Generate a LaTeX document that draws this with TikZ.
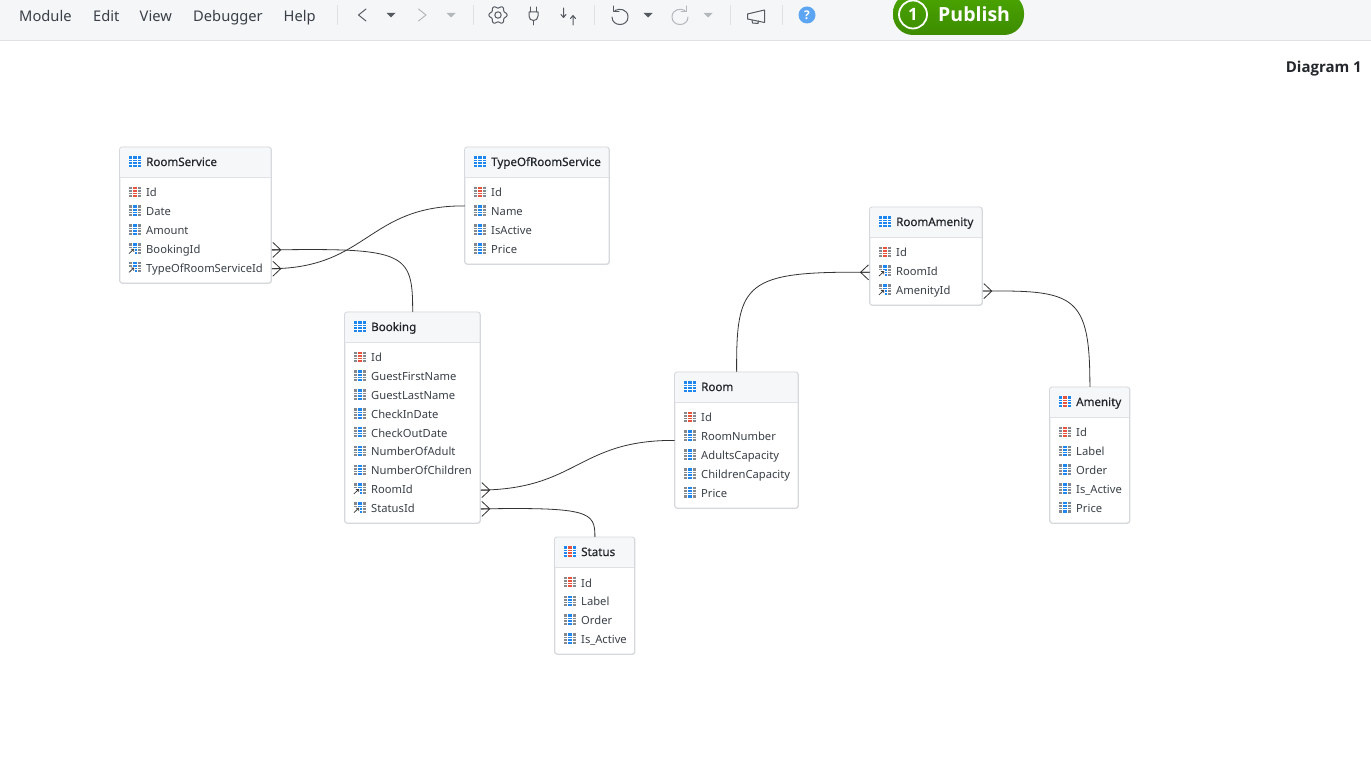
\documentclass[tikz,border=0pt]{standalone}
\usepackage{fontspec}
\setmainfont{Noto Sans}
\newfontfamily\headfont[FakeBold=.5]{Noto Sans}
\newfontfamily\strongfont{Open Sans}
\definecolor{barbg}{HTML}{F5F6F8}
\definecolor{barline}{HTML}{DFE1E5}
\definecolor{framecol}{HTML}{D5D8DC}
\definecolor{headbg}{HTML}{F6F7F9}
\definecolor{inkcol}{HTML}{3A4048}
\definecolor{titlecol}{HTML}{23272C}
\definecolor{iconcol}{HTML}{555A60}
\definecolor{offcol}{HTML}{B4B7BB}
\definecolor{keyblue}{HTML}{1F86EE}
\definecolor{keygrey}{HTML}{85888C}
\definecolor{keyred}{HTML}{E8533E}
\definecolor{helpblue}{HTML}{5CA5F2}
\definecolor{pubtop}{HTML}{4AA500}
\definecolor{pubbottom}{HTML}{3D8C00}
\newcommand{\gridlines}{
  \foreach \lineat in {-2.75,-.25,2.25}{\fill[white] (-6,\lineat) rectangle (6,\lineat+.5);}
  \foreach \lineat in {-2.2,2.2}{\fill[white] (\lineat-.2,-5.3) rectangle (\lineat+.2,5.3);}
}
\tikzset{
tableframe/.style={draw=framecol,rounded corners=2.5pt,fill=white,line width=.8pt,inner sep=0pt},
tabletitle/.style={anchor=west,inner sep=0pt,font=\fontsize{11.6}{14}\headfont,text=titlecol,text height=9pt,text depth=2pt},
rowtext/.style={anchor=west,inner sep=0pt,font=\fontsize{11.2}{14}\selectfont,text=inkcol,text height=9pt,text depth=2pt},
menutext/.style={anchor=base west,inner sep=0pt,font=\fontsize{14.7}{16}\selectfont,text=inkcol},
link/.style={draw=black!80,line width=.8pt},
sepline/.style={draw=barline,line width=1pt},
toolicon/.style={draw=iconcol,line width=1pt,line cap=round,line join=round},
toolicon off/.style={draw=offcol,line width=1pt,line cap=round},
crowsfoot/.pic={\draw[link] (1,-7.5) -- (9,0) -- (1,7.5) (0,0) -- (9,0);},
headicon/.pic={\fill[keyblue] (-6,-5.3) rectangle (6,5.3); \gridlines},
headiconred/.pic={\fill[keyblue] (-6,-5.3) rectangle (6,5.3); \fill[keyred] (-2,-5.3) rectangle (2,5.3); \gridlines},
keyicon/.pic={\fill[keygrey] (-6,-5.3) rectangle (6,5.3); \fill[keyred] (-2,-5.3) rectangle (2,5.3); \gridlines},
colicon/.pic={\fill[keygrey] (-6,-5.3) rectangle (6,5.3); \fill[keyblue] (-2,-5.3) rectangle (2,5.3); \gridlines},
fkicon/.pic={
  \fill[keygrey] (-6,-5.3) rectangle (6,5.3);
  \fill[keyblue] (-2,-5.3) rectangle (2,5.3);
  \gridlines
  \fill[white] (-7,-.5) rectangle (0,5.8);
  \draw[black!75,line width=.8pt] (-5.5,5.2) -- (-.8,.8) (-3.6,.8) -- (-.8,.8) -- (-.8,3.6);
}
}
% name, left, top, width, height, title, title icon, rows as id/icon/text
\newcommand{\dbtable}[8]{
  \node[tableframe,anchor=north west,minimum width=#4,minimum height=#5] (#1) at (#2,#3) {};
  \begin{scope}
    \clip[rounded corners=2.5pt] (#2,#3) rectangle ++(#4,30);
    \fill[headbg] (#2,#3) rectangle ++(#4,30);
  \end{scope}
  \draw[barline,line width=.8pt] (#2,#3+30) -- ++(#4,0);
  \draw[framecol,rounded corners=2.5pt,line width=.8pt] (#2,#3) rectangle ++(#4,#5);
  \node[tabletitle] (#1-title) at (#2+26.5,#3+15.5) {#6};
  \pic at (#2+15,#3+14.5) {#7};
  \foreach \rowid/\rowkind/\rowlabel [count=\rowno from 0] in {#8}{
    \node[rowtext] (#1-\rowid) at (#2+26.5,#3+46.5+18.8*\rowno) {\rowlabel};
    \pic at (#2+15,#3+45+18.8*\rowno) {\rowkind};
  }
}
\begin{document}
\begin{tikzpicture}[x=1pt,y=-1pt]
\useasboundingbox (0,0) rectangle (1371,783);
\fill[white] (0,0) rectangle (1371,783);
% toolbar
\fill[barbg] (0,0) rectangle (1371,40);
\draw[barline,line width=1pt] (0,40.5) -- (1371,40.5);
\node[menutext] (menumodule) at (19,21.5) {Module};
\node[menutext] (menuedit) at (93,21.5) {Edit};
\node[menutext] (menuview) at (139.5,21.5) {View};
\node[menutext] (menudebugger) at (193,21.5) {Debugger};
\node[menutext] (menuhelp) at (283.5,21.5) {Help};
\foreach \sepx in {337,473,594,730,782}{\draw[sepline] (\sepx,5) -- (\sepx,25);}
\draw[toolicon] (366,9) -- (358.5,15) -- (366,21);
\draw[toolicon off] (418.5,9) -- (426,15) -- (418.5,21);
\foreach \tipx/\tipcol in {391/iconcol,451/offcol,648/iconcol,708/offcol}{
  \fill[\tipcol] (\tipx-4.5,13) -- (\tipx+4.5,13) -- (\tipx,17.5) -- cycle;
}
% gear
\draw[toolicon] plot[domain=0:360,samples=73,smooth] ({8*cos(\x)+1.1*cos(\x)*cos(6*\x)+498},{8*sin(\x)+1.1*sin(\x)*cos(6*\x)+15});
\draw[toolicon] (498,15) circle (3.2);
% plug
\draw[toolicon] (529,12) -- (538,12) -- (538,16) .. controls (538,19) and (536,20.5) .. (533.5,20.5) .. controls (531,20.5) and (529,19) .. (529,16) -- cycle;
\draw[toolicon] (530.5,7) -- (530.5,12) (536.5,7) -- (536.5,12) (533.5,20.5) -- (533.5,25);
% swap arrows
\draw[toolicon] (563.5,8) -- (563.5,17) (561,14.5) -- (563.5,17.5) -- (566,14.5);
\draw[toolicon] (573,25) -- (573,16) (570.5,18.5) -- (573,15.5) -- (575.5,18.5);
% undo and redo
\draw[toolicon] (615,10.5) .. controls (619,8) and (628,9) .. (628,17) .. controls (628,27) and (612,27) .. (612,17);
\draw[toolicon] (613.5,6) -- (613.5,11.5) -- (619,11.5);
\draw[toolicon off] (685,10.5) .. controls (681,8) and (672,9) .. (672,17) .. controls (672,27) and (688,27) .. (688,17);
\draw[toolicon off] (686.5,6) -- (686.5,11.5) -- (681,11.5);
% megaphone
\draw[toolicon] (747.5,14) -- (764.5,10) -- (764.5,22.5) -- (747.5,19) -- cycle;
\draw[toolicon] (752,20) -- (752.5,23) -- (758,23.5) -- (758.5,21);
% help
\fill[helpblue] (807,15) circle (8.5);
\node[inner sep=0pt,text=white,font=\fontsize{12}{12}\strongfont\bfseries] (helpmark) at (807,15) {?};
% publish
\begin{scope}
  \clip (0,0) rectangle (1371,783);
  \shade[top color=pubtop,bottom color=pubbottom,rounded corners=20pt] (893,-7) rectangle (1024,35);
\end{scope}
\node[circle,draw=white,line width=1.8pt,inner sep=0pt,minimum size=28pt,text=white,font=\fontsize{17}{17}\strongfont\bfseries] (pubcount) at (913,14.5) {1};
\node[anchor=base west,inner sep=0pt,text=white,font=\fontsize{19.5}{22}\strongfont\bfseries] (pubtext) at (938,21.5) {Publish};
\node[anchor=base east,inner sep=0pt,text=titlecol,font=\fontsize{15}{16}\strongfont\bfseries] (diagramname) at (1362,72.5) {Diagram 1};
% tables
\dbtable{roomservice}{119.5}{147}{151.5}{136}{RoomService}{headicon}{Id/keyicon/Id,Date/colicon/Date,Amount/colicon/Amount,BookingId/fkicon/BookingId,TypeOfRoomServiceId/fkicon/TypeOfRoomServiceId}
\dbtable{typeofroomservice}{464.5}{147}{144.5}{117}{TypeOfRoomService}{headicon}{Id/keyicon/Id,Name/colicon/Name,IsActive/colicon/IsActive,Price/colicon/Price}
\dbtable{booking}{344.5}{312}{135.5}{211}{Booking}{headicon}{Id/keyicon/Id,GuestFirstName/colicon/GuestFirstName,GuestLastName/colicon/GuestLastName,CheckInDate/colicon/CheckInDate,CheckOutDate/colicon/CheckOutDate,NumberOfAdult/colicon/NumberOfAdult,NumberOfChildren/colicon/NumberOfChildren,RoomId/fkicon/RoomId,StatusId/fkicon/StatusId}
\dbtable{room}{674.5}{372}{123.5}{136}{Room}{headicon}{Id/keyicon/Id,RoomNumber/colicon/RoomNumber,AdultsCapacity/colicon/AdultsCapacity,ChildrenCapacity/colicon/ChildrenCapacity,Price/colicon/Price}
\dbtable{status}{554.5}{537}{80}{117}{Status}{headiconred}{Id/keyicon/Id,Label/colicon/Label,Order/colicon/Order,IsActive/colicon/Is\_Active}
\dbtable{roomamenity}{869.5}{207}{112.5}{98}{RoomAmenity}{headicon}{Id/keyicon/Id,RoomId/fkicon/RoomId,AmenityId/fkicon/AmenityId}
\dbtable{amenity}{1049.5}{387}{80}{136}{Amenity}{headiconred}{Id/keyicon/Id,Label/colicon/Label,Order/colicon/Order,IsActive/colicon/Is\_Active,Price/colicon/Price}
% links
\pic at (roomservice.east |- roomservice-BookingId) {crowsfoot};
\pic at (roomservice.east |- roomservice-TypeOfRoomServiceId) {crowsfoot};
\pic at (booking.east |- booking-RoomId) {crowsfoot};
\pic at (booking.east |- booking-StatusId) {crowsfoot};
\pic at (roomamenity.east |- roomamenity-AmenityId) {crowsfoot};
\pic[xscale=-1] at (roomamenity.west |- roomamenity-RoomId) {crowsfoot};
\draw[link] (roomservice.east |- roomservice-BookingId) .. controls (405,248) and (413,252) .. (booking.north);
\draw[link] (roomservice.east |- roomservice-TypeOfRoomServiceId) .. controls (368,268) and (368,205.5) .. (typeofroomservice.west);
\draw[link] (booking.east |- booking-RoomId) .. controls (578,489) and (578,440) .. (room.west);
\draw[link] (booking.east |- booking-StatusId) .. controls (590,507) and (595,512) .. (status.north);
\draw[link] (room.north) .. controls (736,282) and (745,271) .. (roomamenity.west |- roomamenity-RoomId);
\draw[link] (roomamenity.east |- roomamenity-AmenityId) .. controls (1075,290) and (1090,295) .. (amenity.north);
\end{tikzpicture}
\end{document}
